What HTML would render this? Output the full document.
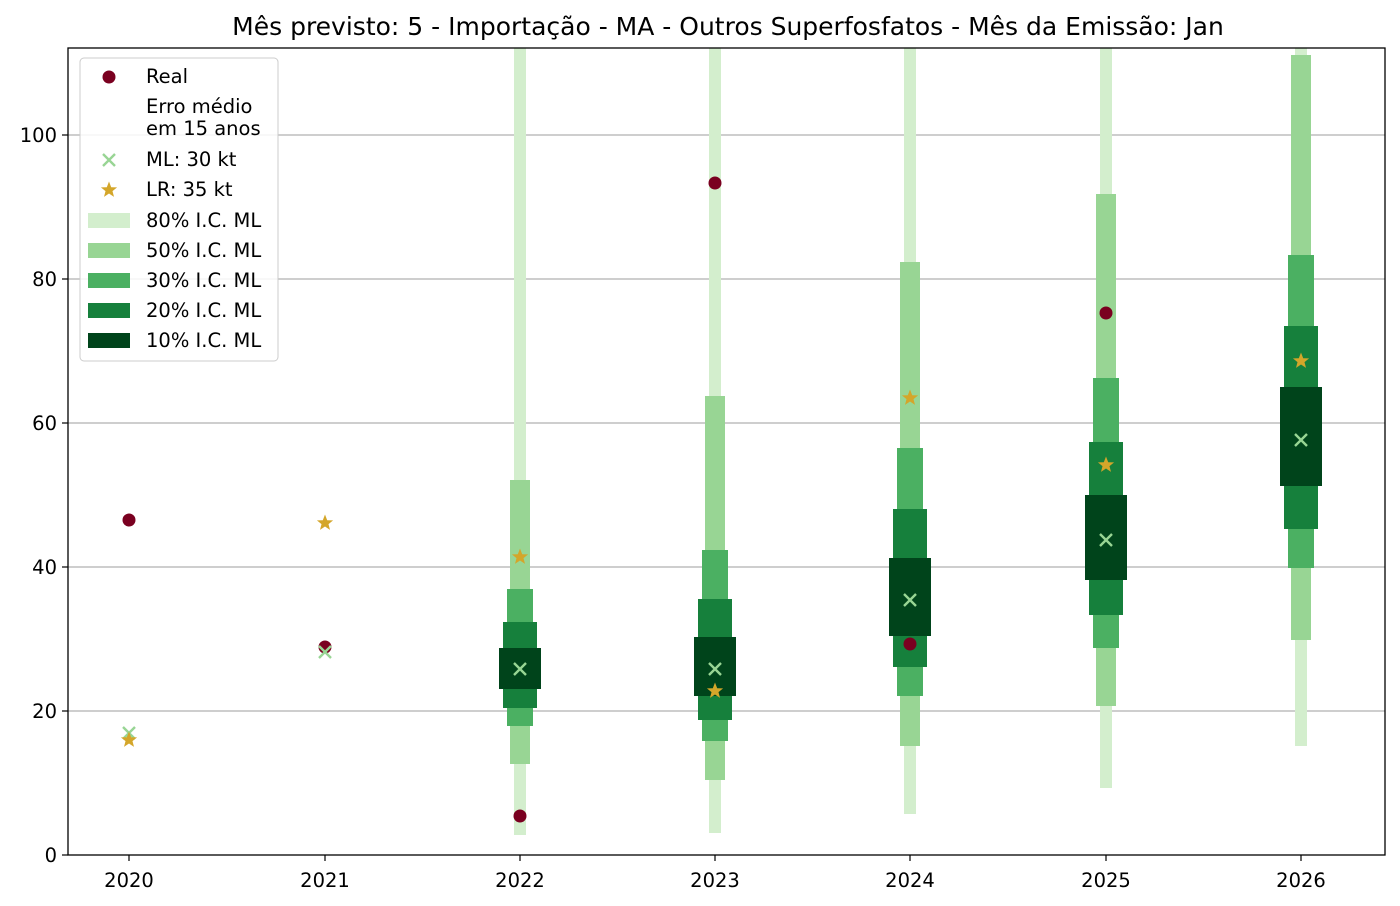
<!DOCTYPE html>
<html><head><meta charset="utf-8"><style>body{margin:0;background:#fff}svg{display:block}</style></head><body>
<svg width="1400" height="906" xmlns="http://www.w3.org/2000/svg" font-family="DejaVu Sans, Liberation Sans, sans-serif">
<rect width="1400" height="906" fill="#fff"/>
<text x="728" y="35" font-size="25" text-anchor="middle" fill="#000">Mês previsto: 5 - Importação - MA - Outros Superfosfatos - Mês da Emissão: Jan</text>
<g stroke="#b0b0b0" stroke-width="1.2">
<line x1="68" x2="1385" y1="711" y2="711"/><line x1="68" x2="1385" y1="567" y2="567"/><line x1="68" x2="1385" y1="423" y2="423"/><line x1="68" x2="1385" y1="279" y2="279"/><line x1="68" x2="1385" y1="135" y2="135"/>
</g>
<g id="bars">
<rect x="514" y="48" width="12" height="787" fill="#d3eecd"/>
<rect x="510" y="480" width="20" height="284" fill="#98d594"/>
<rect x="507" y="589" width="26" height="137" fill="#4bb062"/>
<rect x="503" y="622" width="34" height="86" fill="#16803c"/>
<rect x="499" y="648" width="42" height="41" fill="#00441b"/>
<rect x="709" y="48" width="12" height="785" fill="#d3eecd"/>
<rect x="705" y="396" width="20" height="384" fill="#98d594"/>
<rect x="702" y="550" width="26" height="191" fill="#4bb062"/>
<rect x="698" y="599" width="34" height="121" fill="#16803c"/>
<rect x="694" y="637" width="42" height="59" fill="#00441b"/>
<rect x="904" y="48" width="12" height="766" fill="#d3eecd"/>
<rect x="900" y="262" width="20" height="484" fill="#98d594"/>
<rect x="897" y="448" width="26" height="248" fill="#4bb062"/>
<rect x="893" y="509" width="34" height="158" fill="#16803c"/>
<rect x="889" y="558" width="42" height="78" fill="#00441b"/>
<rect x="1100" y="48" width="12" height="740" fill="#d3eecd"/>
<rect x="1096" y="194" width="20" height="512" fill="#98d594"/>
<rect x="1093" y="378" width="26" height="270" fill="#4bb062"/>
<rect x="1089" y="442" width="34" height="173" fill="#16803c"/>
<rect x="1085" y="495" width="42" height="85" fill="#00441b"/>
<rect x="1295" y="48" width="12" height="698" fill="#d3eecd"/>
<rect x="1291" y="55" width="20" height="585" fill="#98d594"/>
<rect x="1288" y="255" width="26" height="313" fill="#4bb062"/>
<rect x="1284" y="326" width="34" height="203" fill="#16803c"/>
<rect x="1280" y="387" width="42" height="99" fill="#00441b"/>
</g>
<defs>
<g id="x"><path d="M-6,-6L6,6M-6,6L6,-6" stroke="#98d594" stroke-width="2.4"/></g>
<g id="s"><polygon fill="#d4a62a" points="0,-8.5 2.2,-2.8 8.1,-2.6 3.5,1.1 5,6.9 0,3.5 -5,6.9 -3.5,1.1 -8.1,-2.6 -2.2,-2.8"/></g>
</defs>
<g fill="#7a0020">
<circle cx="129" cy="520" r="6.5"/><circle cx="325" cy="647" r="6.5"/><circle cx="520" cy="816" r="6.5"/><circle cx="715" cy="183" r="6.5"/><circle cx="910" cy="644" r="6.5"/><circle cx="1106" cy="313" r="6.5"/>
</g>
<use href="#x" x="129" y="733"/><use href="#x" x="325" y="652"/><use href="#x" x="520" y="669"/><use href="#x" x="715" y="669"/><use href="#x" x="910" y="600"/><use href="#x" x="1106" y="540"/><use href="#x" x="1301" y="440"/>
<use href="#s" x="129" y="740"/><use href="#s" x="325" y="523"/><use href="#s" x="520" y="557"/><use href="#s" x="715" y="691"/><use href="#s" x="910" y="398"/><use href="#s" x="1106" y="465"/><use href="#s" x="1301" y="361"/>
<rect x="68" y="48" width="1317" height="807" fill="none" stroke="#000" stroke-width="1.3"/>
<g font-size="19.5" fill="#000" text-anchor="end">
<text x="57" y="862">0</text><text x="57" y="718">20</text><text x="57" y="574">40</text><text x="57" y="430">60</text><text x="57" y="286">80</text><text x="57" y="142">100</text>
</g>
<g stroke="#000" stroke-width="1.2">
<line x1="62" x2="68" y1="855" y2="855"/><line x1="62" x2="68" y1="711" y2="711"/><line x1="62" x2="68" y1="567" y2="567"/><line x1="62" x2="68" y1="423" y2="423"/><line x1="62" x2="68" y1="279" y2="279"/><line x1="62" x2="68" y1="135" y2="135"/>
<line x1="129" x2="129" y1="855" y2="861"/><line x1="325" x2="325" y1="855" y2="861"/><line x1="520" x2="520" y1="855" y2="861"/><line x1="715" x2="715" y1="855" y2="861"/><line x1="910" x2="910" y1="855" y2="861"/><line x1="1106" x2="1106" y1="855" y2="861"/><line x1="1301" x2="1301" y1="855" y2="861"/>
</g>
<g font-size="19.5" fill="#000" text-anchor="middle">
<text x="129" y="887">2020</text><text x="325" y="887">2021</text><text x="520" y="887">2022</text><text x="715" y="887">2023</text><text x="910" y="887">2024</text><text x="1106" y="887">2025</text><text x="1301" y="887">2026</text>
</g>
<rect x="80" y="58" width="198" height="303" rx="4" fill="#fff" fill-opacity="0.85" stroke="#ccc"/>
<circle cx="109" cy="77" r="6.5" fill="#7a0020"/>
<use href="#x" x="109" y="160"/><use href="#s" x="109" y="190"/>
<rect x="88" y="213" width="42" height="15" fill="#d3eecd"/>
<rect x="88" y="243" width="42" height="15" fill="#98d594"/>
<rect x="88" y="273" width="42" height="15" fill="#4bb062"/>
<rect x="88" y="303" width="42" height="15" fill="#16803c"/>
<rect x="88" y="333" width="42" height="15" fill="#00441b"/>
<g font-size="19.5" fill="#000">
<text x="146" y="83">Real</text><text x="146" y="113">Erro médio</text><text x="146" y="135">em 15 anos</text>
<text x="146" y="166">ML: 30 kt</text><text x="146" y="196">LR: 35 kt</text>
<text x="146" y="227">80% I.C. ML</text><text x="146" y="257">50% I.C. ML</text><text x="146" y="287">30% I.C. ML</text><text x="146" y="317">20% I.C. ML</text><text x="146" y="347">10% I.C. ML</text>
</g>
</svg>
</body></html>
